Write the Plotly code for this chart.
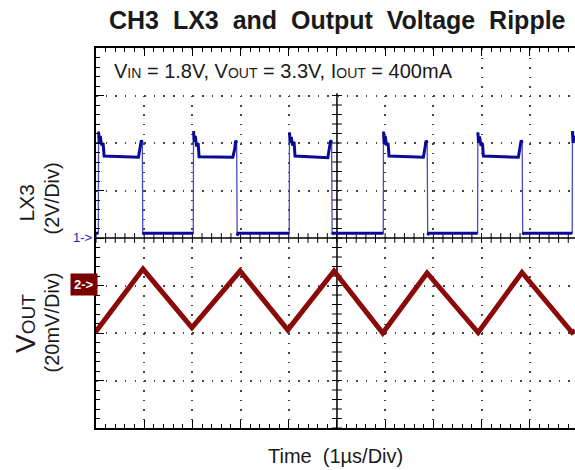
import numpy as np
import plotly.graph_objects as go

# ---------------- data ----------------
# LX3 switching node, volts (2 V/div), time in microseconds (1 us/div)
lx3_t = [0.000,
         0.048, 0.053, 0.068, 0.088, 0.118, 0.148, 0.168, 0.881, 0.921, 0.941, 0.961, 0.971, 0.991,
         2.019, 2.024, 2.039, 2.059, 2.089, 2.119, 2.139, 2.839, 2.879, 2.899, 2.919, 2.929, 2.949,
         4.010, 4.015, 4.030, 4.050, 4.080, 4.110, 4.130, 4.810, 4.850, 4.870, 4.890, 4.900, 4.920,
         5.961, 5.966, 5.981, 6.001, 6.031, 6.061, 6.081, 6.793, 6.833, 6.853, 6.873, 6.883, 6.903,
         7.919, 7.924, 7.939, 7.959, 7.989, 8.019, 8.039, 8.764, 8.804, 8.824, 8.844, 8.854, 8.874,
         9.882, 9.887, 9.902, 9.922, 9.940]
lx3_v = [0.20,
         0.20, 4.48, 4.00, 4.30, 3.90, 4.00, 3.45, 3.40, 3.80, 4.12, 4.00, 0.15, 0.20,
         0.20, 4.50, 4.05, 4.30, 3.85, 4.00, 3.42, 3.40, 3.75, 4.10, 4.00, 0.10, 0.20,
         0.20, 4.45, 4.00, 4.25, 3.90, 4.05, 3.45, 3.38, 3.80, 4.12, 4.00, 0.15, 0.20,
         0.20, 4.48, 3.95, 4.30, 3.90, 4.00, 3.45, 3.40, 3.78, 4.10, 4.00, 0.12, 0.20,
         0.20, 4.45, 4.00, 4.28, 3.88, 4.00, 3.45, 3.40, 3.80, 4.12, 4.00, 0.15, 0.20,
         0.20, 4.50, 4.00, 4.30, 4.05]

# Output voltage ripple, millivolts (20 mV/div) relative to the CH2 marker
vout_t = [0.00, 0.03, 0.975, 1.99, 2.99, 3.98, 4.94, 5.95, 6.87, 7.93, 8.84, 9.88, 9.94]
vout_v = [-17.5, -18.5, 6.9, -17.7, 6.1, -18.7, 6.1, -20.0, 5.3, -19.8, 5.5, -19.8, -19.0]

GAP = " \u00a0"
title_text = GAP.join(["CH3", "LX3", "and", "Output", "Voltage", "Ripple"])
cond_text = ("V<span style='font-size:14px'>IN</span> = 1.8V, "
             "V<span style='font-size:14px'>OUT</span> = 3.3V, "
             "I<span style='font-size:14px'>OUT</span> = 400mA")

# ---------------- geometry ----------------
W, H = 575, 470
L, R, T, B = 96, 0, 48, 42
X_RANGE = [0, 9.94]      # 10 div screen, right edge slightly cut
Y1_RANGE = [-8, 8]       # LX3 volts, 0 V at center
Y2_RANGE = [-60, 100]    # VOUT mV, marker one div below center

def px_x(px):
    return (px - L) / (W - L - R)

def px_y(py):
    return (H - B - py) / (H - T - B)

FONT = "Liberation Sans, Arial, sans-serif"
INK = "#1a1a1a"

fig = go.Figure()

# crosshair tick marks on the centre lines (decoration)
cx = np.round(np.arange(0, 9.95, 0.2), 3)
cy = np.round(np.arange(-8, 6.01, 0.4), 3)
fig.add_trace(go.Scatter(x=cx, y=np.zeros_like(cx), mode="markers", hoverinfo="skip",
                         marker=dict(symbol="line-ns", size=7, line=dict(width=1, color="black")),
                         showlegend=False))
fig.add_trace(go.Scatter(x=np.full_like(cy, 5.0), y=cy, mode="markers", hoverinfo="skip",
                         marker=dict(symbol="line-ew", size=7, line=dict(width=1, color="black")),
                         showlegend=False))

# LX3: thin light edges for the whole waveform, thick plateaus on top
fig.add_trace(go.Scatter(x=lx3_t, y=lx3_v, mode="lines", name="LX3 edges",
                         line=dict(color="#4a4ac4", width=1.3), showlegend=False, hoverinfo="skip"))
plat_t, plat_v = [], []
for i in range(len(lx3_t)):
    if i > 0 and abs(lx3_v[i] - lx3_v[i - 1]) > 2:
        plat_t.append(None)
        plat_v.append(None)
    plat_t.append(lx3_t[i])
    plat_v.append(lx3_v[i])
fig.add_trace(go.Scatter(x=plat_t, y=plat_v, mode="lines", name="LX3",
                         line=dict(color="#0a0a96", width=3), showlegend=False,
                         connectgaps=False))
fig.add_trace(go.Scatter(x=vout_t, y=vout_v, mode="lines", name="VOUT", yaxis="y2",
                         line=dict(color="#8a0a0a", width=5), showlegend=False))

axis_common = dict(showline=True, linecolor="black", linewidth=1.5,
                   ticks="inside", tickcolor="black", tickwidth=1, ticklen=8,
                   showticklabels=False, zeroline=False, showgrid=True,
                   gridcolor="#444444", gridwidth=1.5)

fig.update_layout(
    width=W, height=H,
    margin=dict(l=L, r=R, t=T, b=B),
    paper_bgcolor="white", plot_bgcolor="white",
    xaxis=dict(range=X_RANGE, dtick=1, tick0=0, mirror="ticks",
               griddash="1.5px,8px",
               minor=dict(dtick=0.2, ticks="inside", ticklen=4, tickcolor="black", showgrid=False),
               **axis_common),
    yaxis=dict(range=Y1_RANGE, dtick=2, tick0=0,
               griddash="1.5px,8.14px",
               minor=dict(dtick=0.4, ticks="inside", ticklen=4, tickcolor="black", showgrid=False),
               **axis_common),
    yaxis2=dict(range=Y2_RANGE, overlaying="y", visible=False),
    yaxis3=dict(range=Y1_RANGE, overlaying="y", side="right", anchor="x",
                showline=False, showgrid=False, zeroline=False, showticklabels=False,
                ticks="inside", dtick=2, ticklen=5, tickcolor="black",
                minor=dict(dtick=0.4, ticks="inside", ticklen=2, tickcolor="black")),
)

# solid centre cross and white box behind the condition text
fig.add_shape(type="line", xref="x", yref="paper", x0=5, x1=5, y0=0, y1=1,
              line=dict(color="black", width=1.5), layer="between")
fig.add_shape(type="line", xref="paper", yref="y", x0=0, x1=1, y0=0, y1=0,
              line=dict(color="black", width=1.5), layer="between")
fig.add_shape(type="rect", xref="x", yref="y", x0=0.05, x1=7.72, y0=6.1, y1=7.95,
              fillcolor="white", line=dict(width=0), layer="between")

def ann(text, x, y, size, **kw):
    d = dict(text=text, x=px_x(x), y=px_y(y), xref="paper", yref="paper",
             showarrow=False, font=dict(family=FONT, size=size, color=kw.pop("color", INK)),
             xanchor=kw.pop("xanchor", "center"), yanchor=kw.pop("yanchor", "middle"))
    d.update(kw)
    fig.add_annotation(**d)

ann("<b>" + title_text + "</b>", 337, 20, 25)
ann(cond_text, 112, 71, 20, xanchor="left")
ann("Time \u00a0(1\u00b5s/Div)", 335, 456, 20)
ann("LX3", 25.5, 203, 21, textangle=-90)
ann("(2V/Div)", 51.5, 199, 20, textangle=-90)
ann("V<span style='font-size:19px'>OUT</span>", 25, 324, 28, textangle=-90)
ann("(20mV/Div)", 51.5, 323, 20, textangle=-90)
ann("1->", 82, 237, 13, color="#1c1cc8")
ann("<b>2-></b>", 83.5, 284.5, 13, color="white", bgcolor="#7a0000", borderpad=3)

fig.write_html("out.html", post_script="document.body.style.margin='0';",
               config={"displayModeBar": False})
